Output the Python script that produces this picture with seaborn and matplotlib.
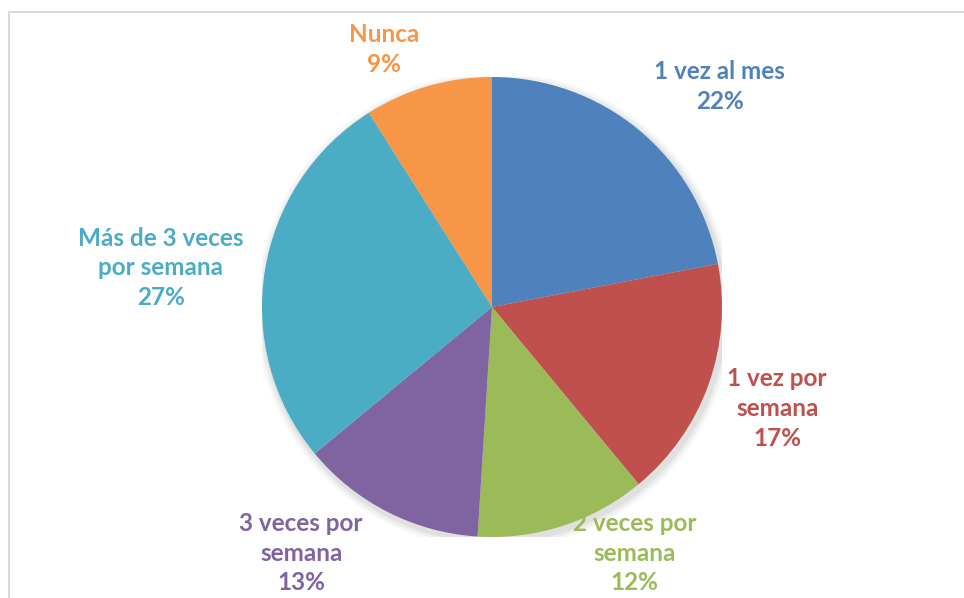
import matplotlib
matplotlib.use('Agg')
import matplotlib.pyplot as plt
import seaborn as sns
import numpy as np

# Frecuencia de uso (porcentajes)
categories = ['1 vez al mes', '1 vez por semana', '2 veces por semana',
              '3 veces por semana', 'Más de 3 veces por semana', 'Nunca']
label_text = ['1 vez al mes', '1 vez por\nsemana', '2 veces por\nsemana',
              '3 veces por\nsemana', 'Más de 3 veces\npor semana', 'Nunca']
values = [22, 17, 12, 13, 27, 9]
colors = ['#4F81BD', '#C0504D', '#9BBB59', '#8064A2', '#4BACC6', '#F79646']

# label positions (in pie radius units), roughly like Excel best fit
label_pos = [(0.99, 0.96), (1.24, -0.44), (0.62, -1.07),
             (-0.83, -1.07), (-1.44, 0.17), (-0.47, 1.12)]

sns.set_theme(style='white')
plt.rcParams['font.family'] = ['Lato', 'DejaVu Sans']

fig = plt.figure(figsize=(9.64, 5.98), dpi=100)

# light gray chart border (runs off right/bottom edges)
frame = plt.Rectangle((9 / 964, -0.05), 1.0, 1 - 12 / 598 + 0.05,
                      transform=fig.transFigure, fill=False,
                      edgecolor='#D9D9D9', linewidth=1.5)
fig.patches.append(frame)

ax = fig.add_axes([262 / 964, 61 / 598, 460 / 964, 460 / 598])

# soft shadow behind the pie
for i, a in enumerate([0.05, 0.04, 0.03]):
    sh = plt.Circle((0.01, -0.015), 1.0 + 0.012 * (i + 1), color='black',
                    alpha=a, linewidth=0, zorder=0)
    ax.add_patch(sh)

wedges, _ = ax.pie(values, colors=colors, startangle=90, counterclock=False,
                   radius=1.0, wedgeprops=dict(linewidth=0))

for lab, v, c, (x, y) in zip(label_text, values, colors, label_pos):
    ax.text(x, y, f'{lab}\n{v}%', ha='center', va='center', color=c,
            fontsize=17.5, fontweight='bold', linespacing=1.36)

ax.set_xlim(-1, 1)
ax.set_ylim(-1, 1)
ax.set_aspect('equal')
ax.axis('off')

fig.savefig('out.png', dpi=100)
